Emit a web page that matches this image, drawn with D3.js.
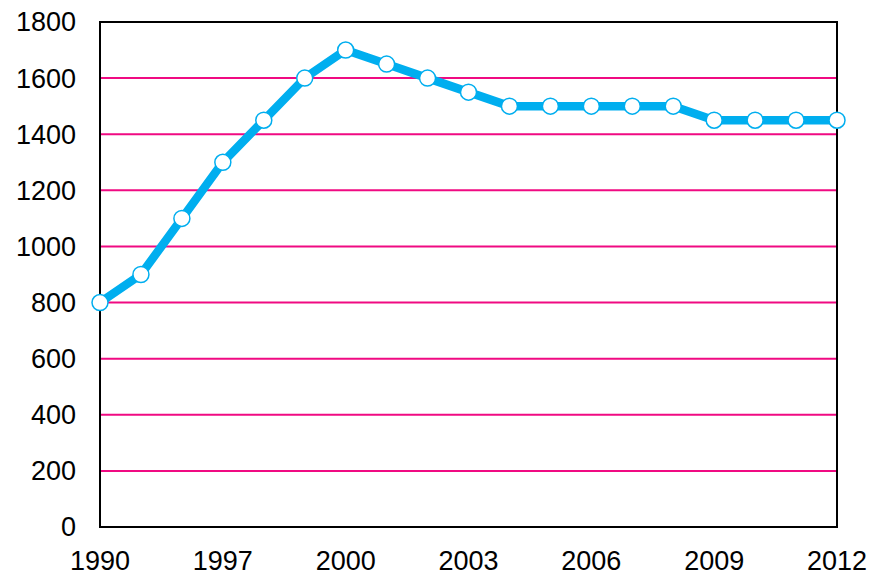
<!DOCTYPE html>
<html lang="en">
<head>
  <meta charset="UTF-8">
  <title>Line chart</title>
  <script src="https://d3js.org/d3.v7.min.js"></script>
  <style>
    body { margin: 0; background: #fff; }
    text { font-family: "Liberation Sans", Arial, sans-serif; font-size: 27px; fill: #000; }
  </style>
</head>
<body>
  <svg id="chart" width="874" height="576"></svg>
  <script>
    // categories (only every third one is labelled)
    const years = ["1990", "1995", "1996", "1997", "1998", "1999", "2000", "2001", "2002", "2003",
                   "2004", "2005", "2006", "2007", "2008", "2009", "2010", "2011", "2012"];
    const values = [800, 900, 1100, 1300, 1450, 1600, 1700, 1650, 1600, 1550,
                    1500, 1500, 1500, 1500, 1500, 1450, 1450, 1450, 1450];
    const shownYears = ["1990", "1997", "2000", "2003", "2006", "2009", "2012"];
    const yTicks = [0, 200, 400, 600, 800, 1000, 1200, 1400, 1600, 1800];

    const svg = d3.select("#chart");
    const plotL = 100, plotR = 837, plotT = 22, plotB = 527;

    const x = d3.scalePoint().domain(years).range([plotL, plotR]);
    const y = d3.scaleLinear().domain([0, 1800]).range([plotB, plotT]);

    // gridlines
    svg.selectAll(".grid")
      .data(yTicks.filter(d => d > 0 && d < 1800))
      .enter().append("line")
      .attr("x1", plotL).attr("x2", plotR)
      .attr("y1", d => y(d)).attr("y2", d => y(d))
      .attr("stroke", "#f00a82")
      .attr("stroke-width", 2);

    // plot frame
    svg.append("rect")
      .attr("x", plotL).attr("y", plotT)
      .attr("width", plotR - plotL).attr("height", plotB - plotT)
      .attr("fill", "none")
      .attr("stroke", "#000")
      .attr("stroke-width", 2);

    // y labels
    svg.selectAll(".ylab")
      .data(yTicks)
      .enter().append("text")
      .attr("x", 76)
      .attr("y", d => y(d))
      .attr("dy", "0.35em")
      .attr("text-anchor", "end")
      .text(d => d);

    // x labels
    svg.selectAll(".xlab")
      .data(shownYears)
      .enter().append("text")
      .attr("x", d => x(d))
      .attr("y", 570)
      .attr("text-anchor", "middle")
      .text(d => d);

    const pts = years.map((yr, i) => [yr, values[i]]);

    svg.append("path")
      .datum(pts)
      .attr("fill", "none")
      .attr("stroke", "#00aeef")
      .attr("stroke-width", 8.5)
      .attr("stroke-linejoin", "round")
      .attr("d", d3.line().x(d => x(d[0])).y(d => y(d[1])));

    svg.selectAll(".dot")
      .data(pts)
      .enter().append("circle")
      .attr("cx", d => x(d[0]))
      .attr("cy", d => y(d[1]))
      .attr("r", 8)
      .attr("fill", "#fff")
      .attr("stroke", "#00aeef")
      .attr("stroke-width", 1.5);
  </script>
</body>
</html>
